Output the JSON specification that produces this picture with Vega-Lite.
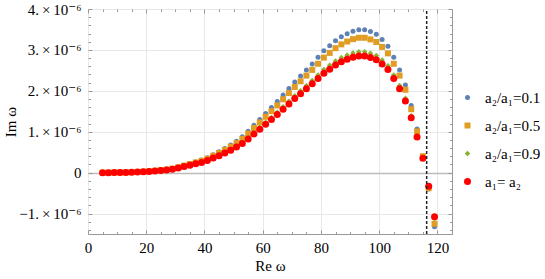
{
"$schema": "https://vega.github.io/schema/vega-lite/v6.json",
"width": 364, "height": 225,
"autosize": {"type": "none"},
"padding": {"left": 88, "top": 9, "right": 93, "bottom": 45},
"background": "white",
"config": {
  "view": {"stroke": "#999999", "strokeWidth": 1},
  "font": "Liberation Serif, Times New Roman, DejaVu Serif, serif",
  "legend": {"title": null, "orient": "none", "legendX": 372, "legendY": 81, "padding": 0, "labelFont": "Liberation Serif, Times New Roman, DejaVu Serif, serif", "labelFontSize": 15, "labelColor": "black", "rowPadding": 12, "labelOffset": 10, "symbolStrokeWidth": 0}
},
"data": {"values": [
{"re":5,"im":0,"s":"a₂/a₁=0.1"},{"re":7,"im":0,"s":"a₂/a₁=0.1"},{"re":9,"im":0.001e-6,"s":"a₂/a₁=0.1"},{"re":11,"im":0.004e-6,"s":"a₂/a₁=0.1"},{"re":13,"im":0.007e-6,"s":"a₂/a₁=0.1"},{"re":15,"im":0.012e-6,"s":"a₂/a₁=0.1"},{"re":17,"im":0.018e-6,"s":"a₂/a₁=0.1"},{"re":19,"im":0.026e-6,"s":"a₂/a₁=0.1"},{"re":21,"im":0.036e-6,"s":"a₂/a₁=0.1"},{"re":23,"im":0.048e-6,"s":"a₂/a₁=0.1"},{"re":25,"im":0.062e-6,"s":"a₂/a₁=0.1"},{"re":27,"im":0.081e-6,"s":"a₂/a₁=0.1"},{"re":29,"im":0.104e-6,"s":"a₂/a₁=0.1"},{"re":31,"im":0.137e-6,"s":"a₂/a₁=0.1"},{"re":33,"im":0.181e-6,"s":"a₂/a₁=0.1"},{"re":35,"im":0.223e-6,"s":"a₂/a₁=0.1"},{"re":37,"im":0.263e-6,"s":"a₂/a₁=0.1"},{"re":39,"im":0.306e-6,"s":"a₂/a₁=0.1"},{"re":41,"im":0.361e-6,"s":"a₂/a₁=0.1"},{"re":43,"im":0.435e-6,"s":"a₂/a₁=0.1"},{"re":45,"im":0.508e-6,"s":"a₂/a₁=0.1"},{"re":47,"im":0.588e-6,"s":"a₂/a₁=0.1"},{"re":49,"im":0.674e-6,"s":"a₂/a₁=0.1"},{"re":51,"im":0.766e-6,"s":"a₂/a₁=0.1"},{"re":53,"im":0.876e-6,"s":"a₂/a₁=0.1"},{"re":55,"im":1.011e-6,"s":"a₂/a₁=0.1"},{"re":57,"im":1.158e-6,"s":"a₂/a₁=0.1"},{"re":59,"im":1.299e-6,"s":"a₂/a₁=0.1"},{"re":61,"im":1.446e-6,"s":"a₂/a₁=0.1"},{"re":63,"im":1.593e-6,"s":"a₂/a₁=0.1"},{"re":65,"im":1.740e-6,"s":"a₂/a₁=0.1"},{"re":67,"im":1.899e-6,"s":"a₂/a₁=0.1"},{"re":69,"im":2.058e-6,"s":"a₂/a₁=0.1"},{"re":71,"im":2.217e-6,"s":"a₂/a₁=0.1"},{"re":73,"im":2.364e-6,"s":"a₂/a₁=0.1"},{"re":75,"im":2.511e-6,"s":"a₂/a₁=0.1"},{"re":77,"im":2.658e-6,"s":"a₂/a₁=0.1"},{"re":79,"im":2.818e-6,"s":"a₂/a₁=0.1"},{"re":81,"im":2.977e-6,"s":"a₂/a₁=0.1"},{"re":83,"im":3.099e-6,"s":"a₂/a₁=0.1"},{"re":85,"im":3.222e-6,"s":"a₂/a₁=0.1"},{"re":87,"im":3.320e-6,"s":"a₂/a₁=0.1"},{"re":89,"im":3.393e-6,"s":"a₂/a₁=0.1"},{"re":91,"im":3.455e-6,"s":"a₂/a₁=0.1"},{"re":93,"im":3.491e-6,"s":"a₂/a₁=0.1"},{"re":95,"im":3.491e-6,"s":"a₂/a₁=0.1"},{"re":97,"im":3.448e-6,"s":"a₂/a₁=0.1"},{"re":99,"im":3.381e-6,"s":"a₂/a₁=0.1"},{"re":101,"im":3.252e-6,"s":"a₂/a₁=0.1"},{"re":103,"im":3.087e-6,"s":"a₂/a₁=0.1"},{"re":105,"im":2.818e-6,"s":"a₂/a₁=0.1"},{"re":107,"im":2.511e-6,"s":"a₂/a₁=0.1"},{"re":109,"im":2.144e-6,"s":"a₂/a₁=0.1"},{"re":111,"im":1.642e-6,"s":"a₂/a₁=0.1"},{"re":113,"im":1.066e-6,"s":"a₂/a₁=0.1"},{"re":115,"im":0.40e-6,"s":"a₂/a₁=0.1"},{"re":117,"im":-0.40e-6,"s":"a₂/a₁=0.1"},{"re":119,"im":-1.323e-6,"s":"a₂/a₁=0.1"},
{"re":5,"im":0,"s":"a₂/a₁=0.5"},{"re":7,"im":0,"s":"a₂/a₁=0.5"},{"re":9,"im":0.001e-6,"s":"a₂/a₁=0.5"},{"re":11,"im":0.003e-6,"s":"a₂/a₁=0.5"},{"re":13,"im":0.007e-6,"s":"a₂/a₁=0.5"},{"re":15,"im":0.012e-6,"s":"a₂/a₁=0.5"},{"re":17,"im":0.017e-6,"s":"a₂/a₁=0.5"},{"re":19,"im":0.024e-6,"s":"a₂/a₁=0.5"},{"re":21,"im":0.034e-6,"s":"a₂/a₁=0.5"},{"re":23,"im":0.045e-6,"s":"a₂/a₁=0.5"},{"re":25,"im":0.059e-6,"s":"a₂/a₁=0.5"},{"re":27,"im":0.076e-6,"s":"a₂/a₁=0.5"},{"re":29,"im":0.098e-6,"s":"a₂/a₁=0.5"},{"re":31,"im":0.130e-6,"s":"a₂/a₁=0.5"},{"re":33,"im":0.171e-6,"s":"a₂/a₁=0.5"},{"re":35,"im":0.211e-6,"s":"a₂/a₁=0.5"},{"re":37,"im":0.249e-6,"s":"a₂/a₁=0.5"},{"re":39,"im":0.289e-6,"s":"a₂/a₁=0.5"},{"re":41,"im":0.341e-6,"s":"a₂/a₁=0.5"},{"re":43,"im":0.411e-6,"s":"a₂/a₁=0.5"},{"re":45,"im":0.480e-6,"s":"a₂/a₁=0.5"},{"re":47,"im":0.555e-6,"s":"a₂/a₁=0.5"},{"re":49,"im":0.636e-6,"s":"a₂/a₁=0.5"},{"re":51,"im":0.723e-6,"s":"a₂/a₁=0.5"},{"re":53,"im":0.827e-6,"s":"a₂/a₁=0.5"},{"re":55,"im":0.955e-6,"s":"a₂/a₁=0.5"},{"re":57,"im":1.093e-6,"s":"a₂/a₁=0.5"},{"re":59,"im":1.226e-6,"s":"a₂/a₁=0.5"},{"re":61,"im":1.365e-6,"s":"a₂/a₁=0.5"},{"re":63,"im":1.504e-6,"s":"a₂/a₁=0.5"},{"re":65,"im":1.643e-6,"s":"a₂/a₁=0.5"},{"re":67,"im":1.793e-6,"s":"a₂/a₁=0.5"},{"re":69,"im":1.944e-6,"s":"a₂/a₁=0.5"},{"re":71,"im":2.094e-6,"s":"a₂/a₁=0.5"},{"re":73,"im":2.233e-6,"s":"a₂/a₁=0.5"},{"re":75,"im":2.372e-6,"s":"a₂/a₁=0.5"},{"re":77,"im":2.511e-6,"s":"a₂/a₁=0.5"},{"re":79,"im":2.661e-6,"s":"a₂/a₁=0.5"},{"re":81,"im":2.812e-6,"s":"a₂/a₁=0.5"},{"re":83,"im":2.927e-6,"s":"a₂/a₁=0.5"},{"re":85,"im":3.043e-6,"s":"a₂/a₁=0.5"},{"re":87,"im":3.135e-6,"s":"a₂/a₁=0.5"},{"re":89,"im":3.205e-6,"s":"a₂/a₁=0.5"},{"re":91,"im":3.263e-6,"s":"a₂/a₁=0.5"},{"re":93,"im":3.297e-6,"s":"a₂/a₁=0.5"},{"re":95,"im":3.297e-6,"s":"a₂/a₁=0.5"},{"re":97,"im":3.257e-6,"s":"a₂/a₁=0.5"},{"re":99,"im":3.193e-6,"s":"a₂/a₁=0.5"},{"re":101,"im":3.072e-6,"s":"a₂/a₁=0.5"},{"re":103,"im":2.916e-6,"s":"a₂/a₁=0.5"},{"re":105,"im":2.661e-6,"s":"a₂/a₁=0.5"},{"re":107,"im":2.372e-6,"s":"a₂/a₁=0.5"},{"re":109,"im":2.025e-6,"s":"a₂/a₁=0.5"},{"re":111,"im":1.550e-6,"s":"a₂/a₁=0.5"},{"re":113,"im":1.007e-6,"s":"a₂/a₁=0.5"},{"re":115,"im":0.40e-6,"s":"a₂/a₁=0.5"},{"re":117,"im":-0.38e-6,"s":"a₂/a₁=0.5"},{"re":119,"im":-1.250e-6,"s":"a₂/a₁=0.5"},
{"re":5,"im":0,"s":"a₂/a₁=0.9"},{"re":7,"im":0,"s":"a₂/a₁=0.9"},{"re":9,"im":0.001e-6,"s":"a₂/a₁=0.9"},{"re":11,"im":0.003e-6,"s":"a₂/a₁=0.9"},{"re":13,"im":0.006e-6,"s":"a₂/a₁=0.9"},{"re":15,"im":0.010e-6,"s":"a₂/a₁=0.9"},{"re":17,"im":0.016e-6,"s":"a₂/a₁=0.9"},{"re":19,"im":0.022e-6,"s":"a₂/a₁=0.9"},{"re":21,"im":0.030e-6,"s":"a₂/a₁=0.9"},{"re":23,"im":0.040e-6,"s":"a₂/a₁=0.9"},{"re":25,"im":0.053e-6,"s":"a₂/a₁=0.9"},{"re":27,"im":0.068e-6,"s":"a₂/a₁=0.9"},{"re":29,"im":0.088e-6,"s":"a₂/a₁=0.9"},{"re":31,"im":0.116e-6,"s":"a₂/a₁=0.9"},{"re":33,"im":0.153e-6,"s":"a₂/a₁=0.9"},{"re":35,"im":0.189e-6,"s":"a₂/a₁=0.9"},{"re":37,"im":0.223e-6,"s":"a₂/a₁=0.9"},{"re":39,"im":0.259e-6,"s":"a₂/a₁=0.9"},{"re":41,"im":0.306e-6,"s":"a₂/a₁=0.9"},{"re":43,"im":0.368e-6,"s":"a₂/a₁=0.9"},{"re":45,"im":0.430e-6,"s":"a₂/a₁=0.9"},{"re":47,"im":0.498e-6,"s":"a₂/a₁=0.9"},{"re":49,"im":0.570e-6,"s":"a₂/a₁=0.9"},{"re":51,"im":0.648e-6,"s":"a₂/a₁=0.9"},{"re":53,"im":0.741e-6,"s":"a₂/a₁=0.9"},{"re":55,"im":0.856e-6,"s":"a₂/a₁=0.9"},{"re":57,"im":0.980e-6,"s":"a₂/a₁=0.9"},{"re":59,"im":1.099e-6,"s":"a₂/a₁=0.9"},{"re":61,"im":1.224e-6,"s":"a₂/a₁=0.9"},{"re":63,"im":1.348e-6,"s":"a₂/a₁=0.9"},{"re":65,"im":1.473e-6,"s":"a₂/a₁=0.9"},{"re":67,"im":1.607e-6,"s":"a₂/a₁=0.9"},{"re":69,"im":1.742e-6,"s":"a₂/a₁=0.9"},{"re":71,"im":1.877e-6,"s":"a₂/a₁=0.9"},{"re":73,"im":2.001e-6,"s":"a₂/a₁=0.9"},{"re":75,"im":2.126e-6,"s":"a₂/a₁=0.9"},{"re":77,"im":2.250e-6,"s":"a₂/a₁=0.9"},{"re":79,"im":2.385e-6,"s":"a₂/a₁=0.9"},{"re":81,"im":2.520e-6,"s":"a₂/a₁=0.9"},{"re":83,"im":2.624e-6,"s":"a₂/a₁=0.9"},{"re":85,"im":2.727e-6,"s":"a₂/a₁=0.9"},{"re":87,"im":2.810e-6,"s":"a₂/a₁=0.9"},{"re":89,"im":2.872e-6,"s":"a₂/a₁=0.9"},{"re":91,"im":2.924e-6,"s":"a₂/a₁=0.9"},{"re":93,"im":2.955e-6,"s":"a₂/a₁=0.9"},{"re":95,"im":2.955e-6,"s":"a₂/a₁=0.9"},{"re":97,"im":2.919e-6,"s":"a₂/a₁=0.9"},{"re":99,"im":2.862e-6,"s":"a₂/a₁=0.9"},{"re":101,"im":2.753e-6,"s":"a₂/a₁=0.9"},{"re":103,"im":2.613e-6,"s":"a₂/a₁=0.9"},{"re":105,"im":2.385e-6,"s":"a₂/a₁=0.9"},{"re":107,"im":2.126e-6,"s":"a₂/a₁=0.9"},{"re":109,"im":1.815e-6,"s":"a₂/a₁=0.9"},{"re":111,"im":1.390e-6,"s":"a₂/a₁=0.9"},{"re":113,"im":0.902e-6,"s":"a₂/a₁=0.9"},{"re":115,"im":0.36e-6,"s":"a₂/a₁=0.9"},{"re":117,"im":-0.34e-6,"s":"a₂/a₁=0.9"},{"re":119,"im":-1.120e-6,"s":"a₂/a₁=0.9"},
{"re":5,"im":0,"s":"a₁= a₂"},{"re":7,"im":0,"s":"a₁= a₂"},{"re":9,"im":0.001e-6,"s":"a₁= a₂"},{"re":11,"im":0.003e-6,"s":"a₁= a₂"},{"re":13,"im":0.006e-6,"s":"a₁= a₂"},{"re":15,"im":0.010e-6,"s":"a₁= a₂"},{"re":17,"im":0.015e-6,"s":"a₁= a₂"},{"re":19,"im":0.021e-6,"s":"a₁= a₂"},{"re":21,"im":0.029e-6,"s":"a₁= a₂"},{"re":23,"im":0.039e-6,"s":"a₁= a₂"},{"re":25,"im":0.051e-6,"s":"a₁= a₂"},{"re":27,"im":0.066e-6,"s":"a₁= a₂"},{"re":29,"im":0.085e-6,"s":"a₁= a₂"},{"re":31,"im":0.112e-6,"s":"a₁= a₂"},{"re":33,"im":0.148e-6,"s":"a₁= a₂"},{"re":35,"im":0.182e-6,"s":"a₁= a₂"},{"re":37,"im":0.215e-6,"s":"a₁= a₂"},{"re":39,"im":0.250e-6,"s":"a₁= a₂"},{"re":41,"im":0.295e-6,"s":"a₁= a₂"},{"re":43,"im":0.355e-6,"s":"a₁= a₂"},{"re":45,"im":0.415e-6,"s":"a₁= a₂"},{"re":47,"im":0.480e-6,"s":"a₁= a₂"},{"re":49,"im":0.550e-6,"s":"a₁= a₂"},{"re":51,"im":0.625e-6,"s":"a₁= a₂"},{"re":53,"im":0.715e-6,"s":"a₁= a₂"},{"re":55,"im":0.825e-6,"s":"a₁= a₂"},{"re":57,"im":0.945e-6,"s":"a₁= a₂"},{"re":59,"im":1.060e-6,"s":"a₁= a₂"},{"re":61,"im":1.180e-6,"s":"a₁= a₂"},{"re":63,"im":1.300e-6,"s":"a₁= a₂"},{"re":65,"im":1.420e-6,"s":"a₁= a₂"},{"re":67,"im":1.550e-6,"s":"a₁= a₂"},{"re":69,"im":1.680e-6,"s":"a₁= a₂"},{"re":71,"im":1.810e-6,"s":"a₁= a₂"},{"re":73,"im":1.930e-6,"s":"a₁= a₂"},{"re":75,"im":2.050e-6,"s":"a₁= a₂"},{"re":77,"im":2.170e-6,"s":"a₁= a₂"},{"re":79,"im":2.300e-6,"s":"a₁= a₂"},{"re":81,"im":2.430e-6,"s":"a₁= a₂"},{"re":83,"im":2.530e-6,"s":"a₁= a₂"},{"re":85,"im":2.630e-6,"s":"a₁= a₂"},{"re":87,"im":2.710e-6,"s":"a₁= a₂"},{"re":89,"im":2.770e-6,"s":"a₁= a₂"},{"re":91,"im":2.820e-6,"s":"a₁= a₂"},{"re":93,"im":2.850e-6,"s":"a₁= a₂"},{"re":95,"im":2.850e-6,"s":"a₁= a₂"},{"re":97,"im":2.815e-6,"s":"a₁= a₂"},{"re":99,"im":2.760e-6,"s":"a₁= a₂"},{"re":101,"im":2.655e-6,"s":"a₁= a₂"},{"re":103,"im":2.520e-6,"s":"a₁= a₂"},{"re":105,"im":2.300e-6,"s":"a₁= a₂"},{"re":107,"im":2.050e-6,"s":"a₁= a₂"},{"re":109,"im":1.750e-6,"s":"a₁= a₂"},{"re":111,"im":1.340e-6,"s":"a₁= a₂"},{"re":113,"im":0.870e-6,"s":"a₁= a₂"},{"re":115,"im":0.350e-6,"s":"a₁= a₂"},{"re":117,"im":-0.330e-6,"s":"a₁= a₂"},{"re":119,"im":-1.080e-6,"s":"a₁= a₂"}
]},
"resolve": {"axis": {"x": "independent", "y": "independent"}},
"layer": [
  {
    "mark": {"type": "point", "filled": true, "opacity": 1, "strokeWidth": 0},
    "encoding": {
      "x": {"field": "re", "type": "quantitative",
        "scale": {"domain": [0, 125], "nice": false, "zero": false},
        "axis": {"orient": "bottom", "values": [0,5,10,15,20,25,30,35,40,45,50,55,60,65,70,75,80,85,90,95,100,105,110,115,120,125],
          "labelExpr": "datum.value % 20 === 0 ? datum.label : ''",
          "labelFlush": false, "labelOverlap": false,
          "tickSize": {"condition": {"test": "datum.value % 20 === 0", "value": -4}, "value": -2.5},
          "tickColor": "#999999", "domain": false,
          "grid": true, "gridColor": "#e8e8e8",
          "gridOpacity": {"condition": {"test": "datum.value % 20 === 0", "value": 1}, "value": 0},
          "labelFont": "Liberation Serif, Times New Roman, DejaVu Serif, serif", "labelFontSize": 15, "labelColor": "black", "labelPadding": 10,
          "title": "Re ω", "titleFont": "Liberation Serif, Times New Roman, DejaVu Serif, serif", "titleFontSize": 15, "titleFontWeight": "normal", "titleColor": "black",
          "titleX": 182, "titleY": 31, "titleBaseline": "middle", "titleAlign": "center"}},
      "y": {"field": "im", "type": "quantitative",
        "scale": {"domain": [-1.5e-6, 4e-6], "nice": false, "zero": false},
        "axis": {"orient": "left", "values": [-1.4e-6,-1.2e-6,-1e-6,-0.8e-6,-0.6e-6,-0.4e-6,-0.2e-6,0,0.2e-6,0.4e-6,0.6e-6,0.8e-6,1e-6,1.2e-6,1.4e-6,1.6e-6,1.8e-6,2e-6,2.2e-6,2.4e-6,2.6e-6,2.8e-6,3e-6,3.2e-6,3.4e-6,3.6e-6,3.8e-6,4e-6],
          "labelExpr": "abs(datum.value*1e6 - round(datum.value*1e6)) > 0.01 ? '' : (round(datum.value*1e6) === 0 ? '0' : (datum.value < 0 ? '−' : '') + abs(round(datum.value*1e6)) + '.\u2009×\u200910⁻⁶')",
          "labelFlush": false, "labelOverlap": false,
          "tickSize": {"condition": {"test": "abs(datum.value*1e6 - round(datum.value*1e6)) < 0.01", "value": -4}, "value": -2.5},
          "tickColor": "#999999", "domain": false,
          "grid": true,
          "gridColor": {"condition": {"test": "abs(datum.value) < 1e-9", "value": "#bdbdbd"}, "value": "#e8e8e8"},
          "gridWidth": {"condition": {"test": "abs(datum.value) < 1e-9", "value": 1.3}, "value": 1},
          "gridOpacity": {"condition": {"test": "abs(datum.value*1e6 - round(datum.value*1e6)) < 0.01", "value": 1}, "value": 0},
          "labelFont": "Liberation Serif, Times New Roman, DejaVu Serif, serif", "labelFontSize": 15, "labelColor": "black", "labelPadding": 11,
          "title": "Im ω", "titleFont": "Liberation Serif, Times New Roman, DejaVu Serif, serif", "titleFontSize": 15, "titleFontWeight": "normal", "titleColor": "black",
          "titleX": -78, "titleY": 112.5, "titleAngle": 270, "titleBaseline": "middle", "titleAlign": "center"}},
      "color": {"field": "s", "type": "nominal",
        "scale": {"domain": ["a₂/a₁=0.1","a₂/a₁=0.5","a₂/a₁=0.9","a₁= a₂"], "range": ["#5E81B5","#E19C24","#8FB032","#FF0000"]}},
      "shape": {"field": "s", "type": "nominal",
        "scale": {"domain": ["a₂/a₁=0.1","a₂/a₁=0.5","a₂/a₁=0.9","a₁= a₂"], "range": ["circle","square","diamond","circle"]}},
      "size": {"field": "s", "type": "nominal",
        "scale": {"type": "ordinal", "domain": ["a₂/a₁=0.1","a₂/a₁=0.5","a₂/a₁=0.9","a₁= a₂"], "range": [25,36,32,49]}}
    }
  },
  {
    "data": {"values": [{}]},
    "mark": {"type": "rule", "strokeDash": [3, 2], "strokeWidth": 1.5, "color": "#222222"},
    "encoding": {
      "x": {"datum": 116.3, "type": "quantitative", "scale": {"domain": [0, 125], "nice": false, "zero": false},
        "axis": {"orient": "top", "values": [0,5,10,15,20,25,30,35,40,45,50,55,60,65,70,75,80,85,90,95,100,105,110,115,120,125],
          "labels": false, "grid": false, "domain": false, "title": null, "tickColor": "#999999",
          "tickSize": {"condition": {"test": "datum.value % 20 === 0", "value": -4}, "value": -2.5}}},
      "y": {"datum": -1.5e-6, "type": "quantitative", "scale": {"domain": [-1.5e-6, 4e-6], "nice": false, "zero": false},
        "axis": {"orient": "right", "values": [-1.4e-6,-1.2e-6,-1e-6,-0.8e-6,-0.6e-6,-0.4e-6,-0.2e-6,0,0.2e-6,0.4e-6,0.6e-6,0.8e-6,1e-6,1.2e-6,1.4e-6,1.6e-6,1.8e-6,2e-6,2.2e-6,2.4e-6,2.6e-6,2.8e-6,3e-6,3.2e-6,3.4e-6,3.6e-6,3.8e-6,4e-6],
          "labels": false, "grid": false, "domain": false, "title": null, "tickColor": "#999999",
          "tickSize": {"condition": {"test": "abs(datum.value*1e6 - round(datum.value*1e6)) < 0.01", "value": -4}, "value": -2.5}}},
      "y2": {"datum": 4e-6}
    }
  }
]
}
